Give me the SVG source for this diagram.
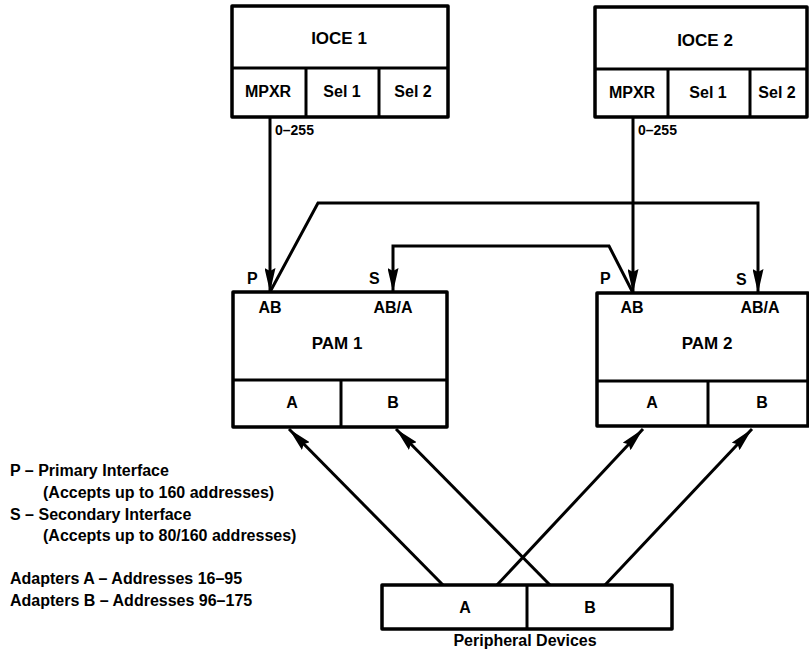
<svg xmlns="http://www.w3.org/2000/svg" width="809" height="653" viewBox="0 0 809 653">
  <style>
    .box { fill: #fff; stroke: #000; stroke-width: 3.5; stroke-linejoin: round; }
    .div { stroke: #000; stroke-width: 3; fill: none; }
    .wire { stroke: #000; stroke-width: 3; fill: none; stroke-linejoin: miter; }
    text { font-family: "Liberation Sans", Arial, sans-serif; fill: #000; font-weight: bold; }
    .title { font-size: 17px; text-anchor: middle; }
    .cell { font-size: 16px; text-anchor: middle; }
    .lbl { font-size: 16px; }
    .num { font-size: 14px; }
    .legend { font-size: 16px; }
  </style>
  <defs>
    <marker id="arrow" viewBox="0 0 24 11" refX="24" refY="5.5" markerWidth="24" markerHeight="11" markerUnits="userSpaceOnUse" orient="auto">
      <path d="M0,0 L24,5.5 L0,11 L3,5.5 Z" fill="#000"/>
    </marker>
  </defs>

  <rect width="809" height="653" fill="#fff"/>

  <!-- Channel units -->
  <g id="ioce1">
    <rect class="box" x="232" y="6" width="216" height="111"/>
    <line class="div" x1="232" y1="68" x2="448" y2="68"/>
    <line class="div" x1="306" y1="68" x2="306" y2="117"/>
    <line class="div" x1="379" y1="68" x2="379" y2="117"/>
    <text class="title" x="339" y="44">IOCE 1</text>
    <text class="cell" x="268" y="97">MPXR</text>
    <text class="cell" x="342" y="97">Sel 1</text>
    <text class="cell" x="413" y="97">Sel 2</text>
  </g>

  <g id="ioce2">
    <rect class="box" x="595" y="7" width="212" height="110"/>
    <line class="div" x1="595" y1="69" x2="807" y2="69"/>
    <line class="div" x1="668" y1="69" x2="668" y2="117"/>
    <line class="div" x1="750" y1="69" x2="750" y2="117"/>
    <text class="title" x="705" y="46">IOCE 2</text>
    <text class="cell" x="632" y="98">MPXR</text>
    <text class="cell" x="708" y="98">Sel 1</text>
    <text class="cell" x="777" y="98">Sel 2</text>
  </g>

  <!-- Adapter modules -->
  <g id="pam1">
    <rect class="box" x="233" y="292" width="214" height="135"/>
    <line class="div" x1="233" y1="380" x2="447" y2="380"/>
    <line class="div" x1="341" y1="380" x2="341" y2="427"/>
    <text class="title" x="337" y="349">PAM 1</text>
    <text class="cell" x="292" y="408">A</text>
    <text class="cell" x="393" y="408">B</text>
    <text class="lbl" x="247" y="284">P</text>
    <text class="lbl" x="369" y="284">S</text>
    <text class="cell" x="270" y="313">AB</text>
    <text class="cell" x="393" y="313">AB/A</text>
  </g>

  <g id="pam2">
    <rect class="box" x="597" y="293" width="211" height="133"/>
    <line class="div" x1="597" y1="381" x2="808" y2="381"/>
    <line class="div" x1="708" y1="381" x2="708" y2="426"/>
    <text class="title" x="707" y="349">PAM 2</text>
    <text class="cell" x="652" y="408">A</text>
    <text class="cell" x="762" y="408">B</text>
    <text class="lbl" x="600" y="284">P</text>
    <text class="lbl" x="736" y="285">S</text>
    <text class="cell" x="632" y="313">AB</text>
    <text class="cell" x="760" y="313">AB/A</text>
  </g>

  <g id="devices">
    <rect class="box" x="382" y="585" width="290" height="44"/>
    <line class="div" x1="527" y1="585" x2="527" y2="629"/>
    <text class="cell" x="465" y="613">A</text>
    <text class="cell" x="590" y="613">B</text>
    <text class="cell" x="525" y="646">Peripheral Devices</text>
  </g>

  <!-- Connectors -->
  <g id="connectors">
    <line class="wire" x1="270" y1="117" x2="270" y2="292" marker-end="url(#arrow)"/>
    <line class="wire" x1="633" y1="117" x2="633" y2="293" marker-end="url(#arrow)"/>
    <path class="wire" d="M270,292 L318,203 L758,203 L758,293" marker-end="url(#arrow)"/>
    <path class="wire" d="M633,293 L609,246 L393,246 L393,292" marker-end="url(#arrow)"/>
    <line class="wire" x1="443" y1="585" x2="289" y2="429" marker-end="url(#arrow)"/>
    <line class="wire" x1="550" y1="585" x2="396" y2="429" marker-end="url(#arrow)"/>
    <line class="wire" x1="497" y1="585" x2="643" y2="429" marker-end="url(#arrow)"/>
    <line class="wire" x1="605" y1="585" x2="752" y2="429" marker-end="url(#arrow)"/>
    <text class="num" x="275" y="135">0–255</text>
    <text class="num" x="638" y="135">0–255</text>
  </g>

  <!-- Key -->
  <g id="legend">
    <text class="legend" x="10" y="476">P – Primary Interface</text>
    <text class="legend" x="43" y="498">(Accepts up to 160 addresses)</text>
    <text class="legend" x="10" y="520">S – Secondary Interface</text>
    <text class="legend" x="43" y="541">(Accepts up to 80/160 addresses)</text>
    <text class="legend" x="10" y="584">Adapters A – Addresses 16–95</text>
    <text class="legend" x="10" y="606">Adapters B – Addresses 96–175</text>
  </g>
</svg>
